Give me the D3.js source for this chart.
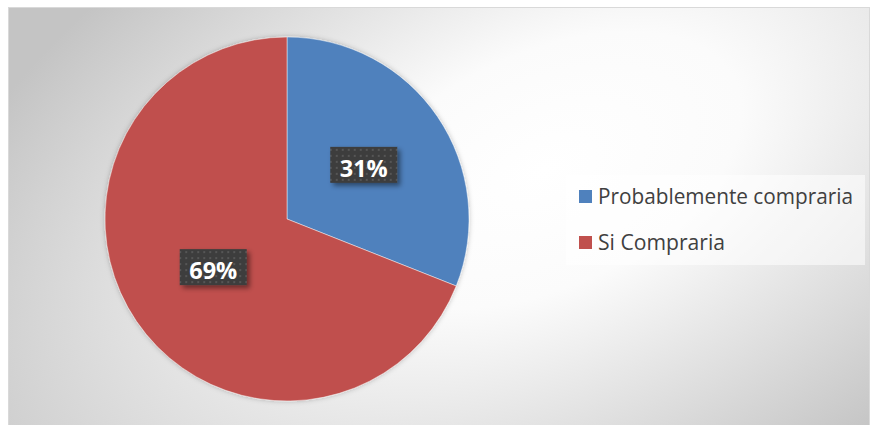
<!DOCTYPE html>
<html>
<head>
<meta charset="utf-8">
<script src="https://cdn.jsdelivr.net/npm/d3@7/dist/d3.min.js"></script>
<style>
  html, body { margin: 0; padding: 0; background: #ffffff; }
  svg { display: block; }
</style>
</head>
<body>
<script>
// Survey answers: share of respondents by purchase intention
const categories = ["Probablemente compraria", "Si Compraria"];
const values = [31, 69];
const sliceColors = ["#4f81bd", "#c0504d"];

const W = 872, H = 425;
const svg = d3.select("body").append("svg").attr("width", W).attr("height", H);
const defs = svg.append("defs");

// Soft radial background of the chart area
const bg = defs.append("radialGradient")
  .attr("id", "bgGrad")
  .attr("gradientUnits", "userSpaceOnUse")
  .attr("cx", 0).attr("cy", 0).attr("r", 1)
  .attr("gradientTransform", "translate(545,170) rotate(-25) scale(700,390)");
bg.append("stop").attr("offset", 0).attr("stop-color", "#ffffff");
bg.append("stop").attr("offset", 0.3).attr("stop-color", "#fbfbfb");
bg.append("stop").attr("offset", 1).attr("stop-color", "#c4c4c4");

// Dotted texture for the value labels
const pat = defs.append("pattern")
  .attr("id", "dots").attr("patternUnits", "userSpaceOnUse")
  .attr("width", 6).attr("height", 6);
pat.append("rect").attr("width", 6).attr("height", 6).attr("fill", "#3d3d3d");
pat.append("rect").attr("x", 2).attr("y", 2).attr("width", 2).attr("height", 2).attr("fill", "#565656");

const shadow = defs.append("filter").attr("id", "lblShadow")
  .attr("x", "-30%").attr("y", "-30%").attr("width", "160%").attr("height", "160%");
shadow.append("feDropShadow").attr("dx", 3).attr("dy", 3).attr("stdDeviation", 2.5)
  .attr("flood-color", "#000").attr("flood-opacity", 0.45);

const pieShadow = defs.append("filter").attr("id", "pieShadow")
  .attr("x", "-10%").attr("y", "-10%").attr("width", "120%").attr("height", "120%");
pieShadow.append("feDropShadow").attr("dx", 0).attr("dy", 0).attr("stdDeviation", 2.5)
  .attr("flood-color", "#000").attr("flood-opacity", 0.25);

// Chart area
const area = { x: 8, y: 7, w: 862, h: 418 };
svg.append("rect")
  .attr("x", area.x + 0.5).attr("y", area.y + 0.5)
  .attr("width", area.w - 1).attr("height", area.h)
  .attr("fill", "url(#bgGrad)")
  .attr("stroke", "#d9d9d9").attr("stroke-width", 1);

// Pie
const cx = 287, cy = 219, R = 182;
const pie = d3.pie().sort(null).value(d => d)(values);
const arc = d3.arc().innerRadius(0).outerRadius(R);

const g = svg.append("g").attr("transform", `translate(${cx},${cy})`);
g.append("g").attr("filter", "url(#pieShadow)")
  .selectAll("path").data(pie).join("path")
  .attr("d", arc)
  .attr("fill", (d, i) => sliceColors[i])
  .attr("stroke", "rgba(255,255,255,0.45)")
  .attr("stroke-width", 1);

// Value labels, centred half-way out on each slice
const labelArc = d3.arc().innerRadius(R * 0.5).outerRadius(R * 0.5);
const total = d3.sum(values);
const lbl = g.selectAll("g.lbl").data(pie).join("g")
  .attr("class", "lbl")
  .attr("transform", d => {
    const [x, y] = labelArc.centroid(d);
    return `translate(${x + 1.5},${y - 3})`;
  });

lbl.each(function (d) {
  const s = d3.select(this);
  const box = s.append("rect").attr("fill", "url(#dots)").attr("filter", "url(#lblShadow)");
  const t = s.append("text")
    .attr("text-anchor", "middle")
    .attr("font-family", "'Open Sans', sans-serif")
    .attr("font-weight", 700)
    .attr("font-size", 23.5)
    .attr("fill", "#ffffff")
    .attr("y", 12)
    .text(Math.round(d.data / total * 100) + "%");
  const w = t.node().getComputedTextLength() + 19;
  box.attr("x", -w / 2).attr("y", -18).attr("width", w).attr("height", 36);
});

// Legend
const lg = svg.append("g");
lg.append("rect")
  .attr("x", 566).attr("y", 175).attr("width", 299).attr("height", 90)
  .attr("fill", "#ffffff").attr("fill-opacity", 0.55);

const rows = lg.selectAll("g.item").data(categories).join("g")
  .attr("class", "item")
  .attr("transform", (d, i) => `translate(579,${190 + i * 46})`);
rows.append("rect").attr("width", 13).attr("height", 13)
  .attr("fill", (d, i) => sliceColors[i]);
rows.append("text")
  .attr("x", 19).attr("y", 14)
  .attr("font-family", "'Open Sans', sans-serif")
  .attr("font-size", 21.5)
  .attr("fill", "#404040")
  .text(d => d)
  .each(function (d, i) {
    const len = this.getComputedTextLength();
    const target = i === 0 ? 255 : 127;
    if (len > target) {
      d3.select(this).attr("textLength", target).attr("lengthAdjust", "spacingAndGlyphs");
    }
  });
</script>
</body>
</html>
